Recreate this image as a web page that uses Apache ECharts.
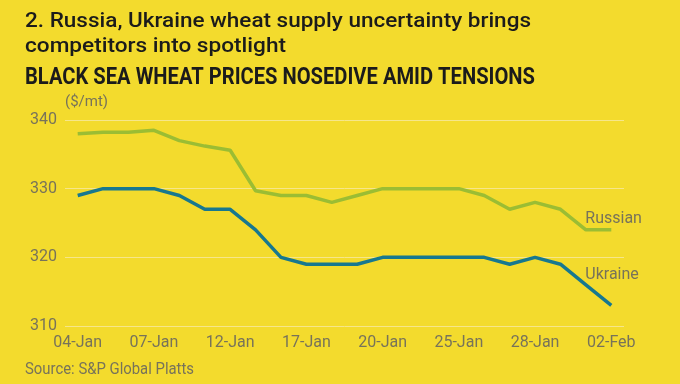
<!DOCTYPE html>
<html>
<head>
<meta charset="utf-8">
<script src="https://cdn.jsdelivr.net/npm/echarts@6/dist/echarts.min.js"></script>
<style>
html,body{margin:0;padding:0;background:#F3DB2D;}
#chart{width:680px;height:384px;}
</style>
</head>
<body>
<div id="chart"></div>
<script>
var categories = ['04-Jan','05-Jan','06-Jan','07-Jan','10-Jan','11-Jan','12-Jan','13-Jan','14-Jan','17-Jan','18-Jan','19-Jan','20-Jan','21-Jan','24-Jan','25-Jan','26-Jan','27-Jan','28-Jan','31-Jan','01-Feb','02-Feb'];
var russian = [338, 338.2, 338.2, 338.5, 337, 336.2, 335.6, 329.7, 329, 329, 328, 329, 330, 330, 330, 330, 329, 327, 328, 327, 324, 324];
var ukraine = [329, 330, 330, 330, 329, 327, 327, 324, 320, 319, 319, 319, 320, 320, 320, 320, 320, 319, 320, 319, 316, 313];
var yTicks = [310, 320, 330, 340];
var titleLine1 = '2. Russia, Ukraine wheat supply uncertainty brings';
var titleLine2 = 'competitors into spotlight';
var subtitle = 'BLACK SEA WHEAT PRICES NOSEDIVE AMID TENSIONS';
var sourceText = 'Source: S&P Global Platts';
var unitText = '($/mt)';

var cv = document.createElement('canvas').getContext('2d');
function fitText(text, font, x, y, targetW, fill) {
  cv.font = font;
  var w = cv.measureText(text).width;
  return {
    type: 'text', x: x, y: y, scaleX: targetW / w, scaleY: 1,
    style: { text: text, font: font, fill: fill, textAlign: 'left', textVerticalAlign: 'middle' }
  };
}

var grey = '#77735a';
var chart = echarts.init(document.getElementById('chart'), null, {renderer: 'canvas'});
chart.setOption({
  backgroundColor: '#F3DB2D',
  animation: false,
  grid: { left: 65, right: 56, top: 120, bottom: 58, containLabel: false },
  graphic: [
    fitText(titleLine1, '500 21px Roboto', 25, 22, 506, '#1b1b1b'),
    fitText(titleLine2, '500 21px Roboto', 25, 47, 261, '#1b1b1b'),
    fitText(subtitle, '700 24px Roboto', 25, 78, 510, '#1b1b1b'),
    fitText(sourceText, '400 16px Roboto', 25, 370, 169, grey)
  ],
  xAxis: {
    type: 'category',
    data: categories,
    boundaryGap: true,
    axisLine: { show: false },
    axisTick: { show: false },
    axisLabel: { interval: 2, color: grey, fontSize: 16, fontFamily: 'Roboto', margin: 9 },
    splitLine: { show: false }
  },
  yAxis: {
    type: 'value',
    min: yTicks[0], max: yTicks[yTicks.length - 1], interval: 10,
    name: unitText,
    nameLocation: 'end',
    nameGap: 10,
    nameTextStyle: { color: grey, fontSize: 15, fontFamily: 'Roboto', align: 'left' },
    axisLine: { show: false },
    axisTick: { show: false },
    axisLabel: { color: grey, fontSize: 16, fontFamily: 'Roboto', margin: 8 },
    splitLine: { show: true, lineStyle: { color: '#F6E68A', width: 1 } }
  },
  series: [
    {
      name: 'Russian', type: 'line', data: russian, symbol: 'none',
      lineStyle: { color: '#9BBD33', width: 3.5 },
      endLabel: { show: true, formatter: 'Russian', color: grey, fontSize: 16, fontFamily: 'Roboto', offset: [-34, -11] }
    },
    {
      name: 'Ukraine', type: 'line', data: ukraine, symbol: 'none',
      lineStyle: { color: '#17788F', width: 3.5 },
      endLabel: { show: true, formatter: 'Ukraine', color: grey, fontSize: 16, fontFamily: 'Roboto', offset: [-34, -30] }
    }
  ]
});
</script>
</body>
</html>
